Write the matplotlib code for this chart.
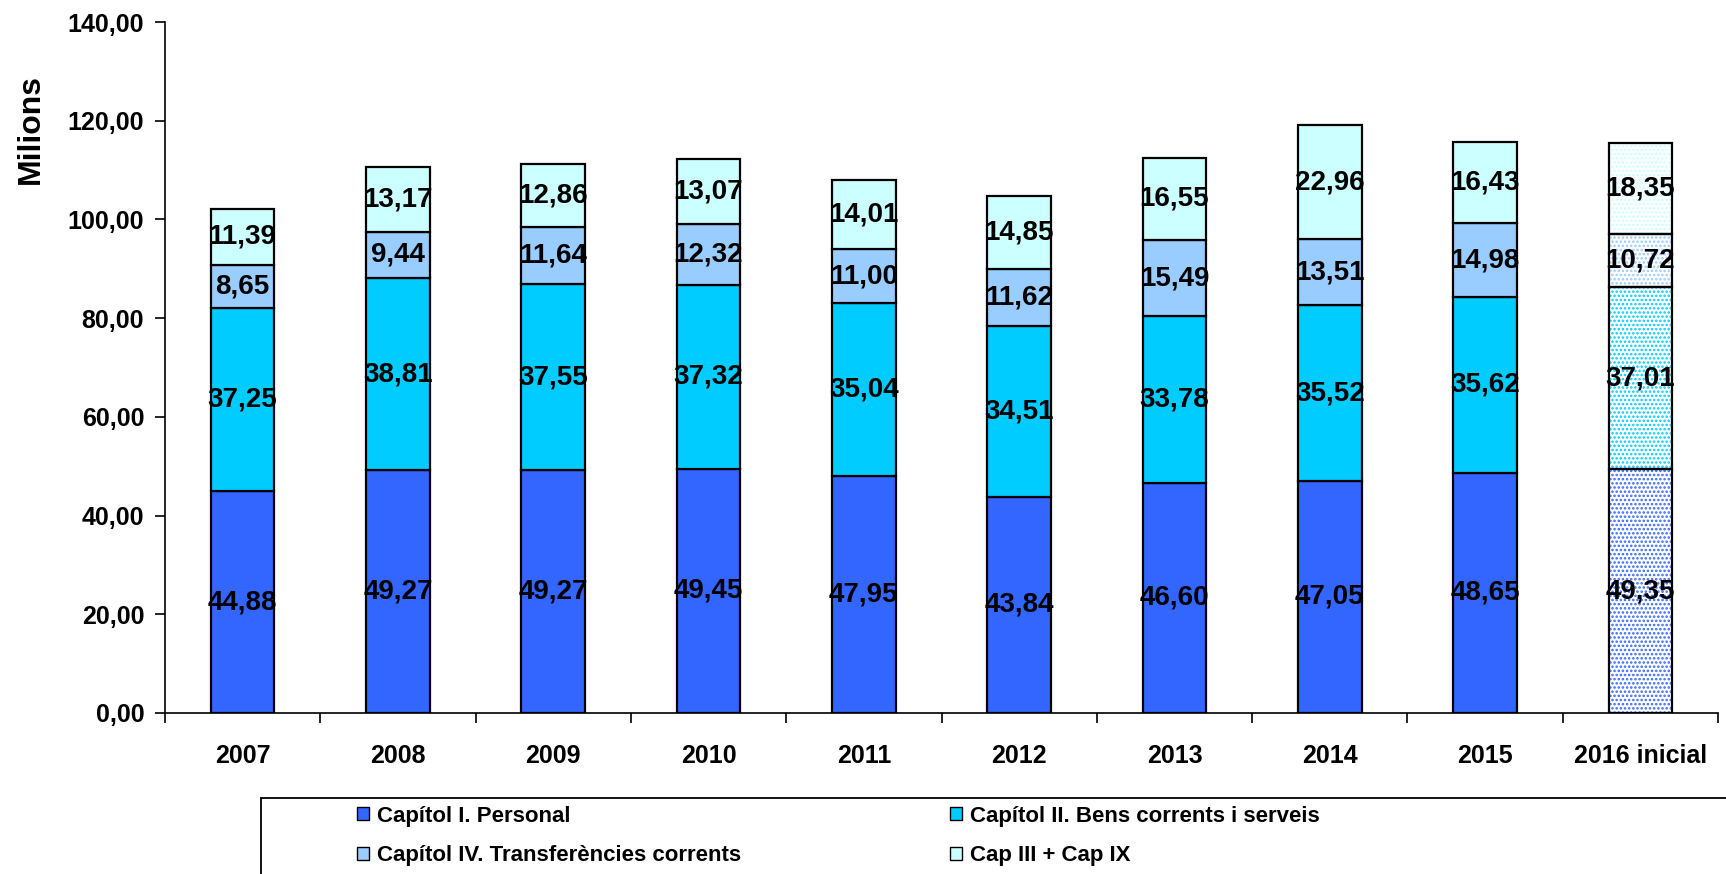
import matplotlib
matplotlib.use("Agg")
import matplotlib.pyplot as plt
from matplotlib.patches import Rectangle, Patch
from matplotlib.ticker import FuncFormatter, FixedLocator
import numpy as np

plt.rcParams['font.family'] = ['Liberation Sans', 'DejaVu Sans']
plt.rcParams['font.weight'] = 'bold'
plt.rcParams['hatch.linewidth'] = 1.2

categories = ['2007', '2008', '2009', '2010', '2011', '2012', '2013', '2014', '2015', '2016 inicial']
cap1 = [44.88, 49.27, 49.27, 49.45, 47.95, 43.84, 46.60, 47.05, 48.65, 49.35]
cap2 = [37.25, 38.81, 37.55, 37.32, 35.04, 34.51, 33.78, 35.52, 35.62, 37.01]
cap4 = [8.65, 9.44, 11.64, 12.32, 11.00, 11.62, 15.49, 13.51, 14.98, 10.72]
cap39 = [11.39, 13.17, 12.86, 13.07, 14.01, 14.85, 16.55, 22.96, 16.43, 18.35]
series_names = ['Capítol I. Personal', 'Capítol II. Bens corrents i serveis',
                'Capítol IV. Transferències corrents', 'Cap III + Cap IX']
colors = ['#3366FF', '#00CCFF', '#99CCFF', '#CCFFFF']
estimated = [False] * 9 + [True]

fig = plt.figure(figsize=(17.26, 8.74), dpi=100)
ax = fig.add_axes([165/1726, 1-713/874, (1718-165)/1726, (713-22)/874])

x = np.arange(len(categories))
width = 0.41
bottom = np.zeros(len(categories))
for vals, col in zip([cap1, cap2, cap4, cap39], colors):
    vals = np.array(vals)
    for i in range(len(categories)):
        if estimated[i]:
            ax.bar(x[i], vals[i], width, bottom=bottom[i], facecolor='white',
                   edgecolor=col, hatch='....', linewidth=0, zorder=2)
            ax.bar(x[i], vals[i], width, bottom=bottom[i], fill=False,
                   edgecolor='black', linewidth=1.6, zorder=3)
        else:
            ax.bar(x[i], vals[i], width, bottom=bottom[i], facecolor=col,
                   edgecolor='black', linewidth=1.6, zorder=3)
        ax.text(x[i], bottom[i] + vals[i]/2, f"{vals[i]:.2f}".replace('.', ','),
                ha='center', va='center', fontsize=20, fontweight='bold', zorder=4)
    bottom += vals

ax.set_xlim(-0.5, len(categories) - 0.5)
ax.set_ylim(0, 140)
ax.set_yticks(np.arange(0, 141, 20))
ax.yaxis.set_major_formatter(FuncFormatter(lambda v, p: f"{v:.2f}".replace('.', ',')))
ax.set_xticks(x)
ax.set_xticklabels(categories)
ax.xaxis.set_minor_locator(FixedLocator(np.arange(-0.5, len(categories), 1.0)))
ax.tick_params(axis='x', which='major', length=0, pad=22, labelsize=18)
ax.tick_params(axis='x', which='minor', length=7, width=1.2)
ax.tick_params(axis='y', which='major', length=7, width=1.2, pad=8, labelsize=18)
for lab in ax.get_xticklabels() + ax.get_yticklabels():
    lab.set_fontweight('bold')
for s in ['top', 'right']:
    ax.spines[s].set_visible(False)
for s in ['left', 'bottom']:
    ax.spines[s].set_linewidth(1.2)

fig.text(31/1726, 1-129/874, 'Milions', rotation=90, ha='center', va='center',
         fontsize=23, fontweight='bold')

# legend frame
fig.patches.append(Rectangle((261/1726, -0.01), 1.0, (874-798)/874 + 0.01,
                             transform=fig.transFigure, fill=False,
                             edgecolor='black', linewidth=1.3))

handles = [Patch(facecolor=c, edgecolor='black', linewidth=1.0) for c in colors]
leg1 = fig.legend([handles[0], handles[2]], [series_names[0], series_names[2]],
                  loc='center left', bbox_to_anchor=(346/1726, 1-836/874),
                  frameon=False, fontsize=16, handlelength=0.55, handleheight=0.55,
                  handletextpad=0.35, labelspacing=0.85, borderpad=0)
leg2 = fig.legend([handles[1], handles[3]], [series_names[1], series_names[3]],
                  loc='center left', bbox_to_anchor=(939/1726, 1-836/874),
                  frameon=False, fontsize=16, handlelength=0.55, handleheight=0.55,
                  handletextpad=0.35, labelspacing=0.85, borderpad=0)
for leg in (leg1, leg2):
    for t in leg.get_texts():
        t.set_fontweight('bold')

fig.savefig('out.png', dpi=100)
